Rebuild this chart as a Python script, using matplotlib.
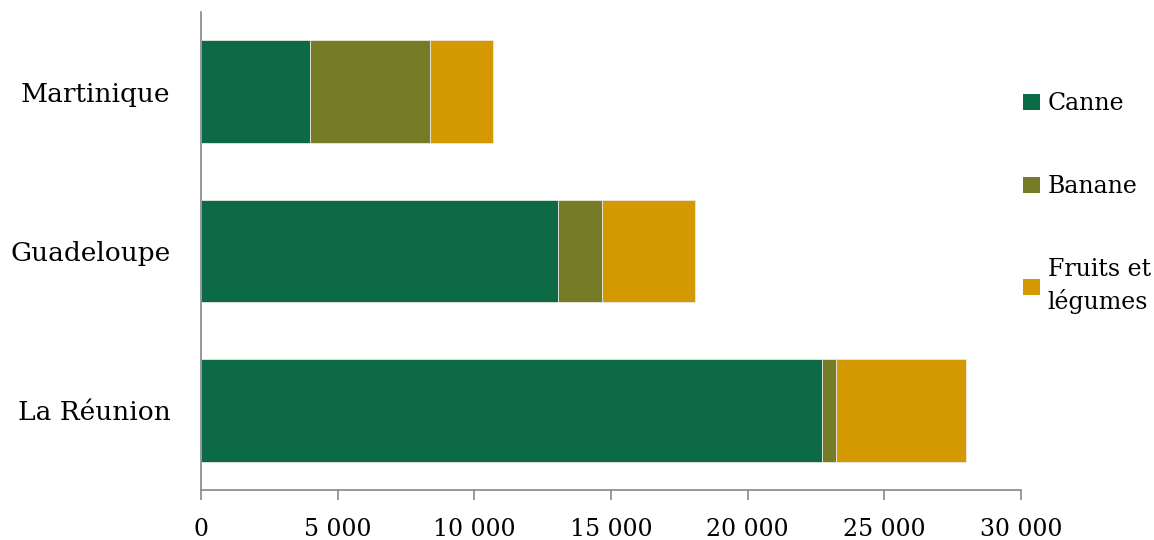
#!/usr/bin/env python3
"""Stacked horizontal bars: agricultural land use in overseas departments."""
import matplotlib.pyplot as plt
from matplotlib.patches import Patch
from matplotlib.ticker import FuncFormatter

plt.rcParams['font.family'] = ['DejaVu Serif']

# Data
regions = ['La Réunion', 'Guadeloupe', 'Martinique']
canne = [22720, 13060, 4000]
banane = [510, 1610, 4380]
fruits = [4760, 3400, 2300]
series_names = ['Canne', 'Banane', 'Fruits et\nlégumes']
colors = ['#0C6B46', '#757B27', '#D49900']

fig = plt.figure(figsize=(11.54, 5.4), dpi=100)
ax = fig.add_axes([0.1742, 0.0926, 0.7105, 0.8852])

left = [0] * len(regions)
for vals, col in zip([canne, banane, fruits], colors):
    ax.barh(regions, vals, left=left, height=0.645, color=col,
            edgecolor='#E8E8E0', linewidth=0.6)
    left = [l + v for l, v in zip(left, vals)]

ax.set_xlim(0, 30000)
ax.set_ylim(-0.5, 2.5)
ax.set_xticks(range(0, 30001, 5000))
ax.xaxis.set_major_formatter(FuncFormatter(lambda v, p: f'{int(v):,}'.replace(',', ' ')))

for s in ['top', 'right']:
    ax.spines[s].set_visible(False)
for s in ['left', 'bottom']:
    ax.spines[s].set_color('#878787')
    ax.spines[s].set_linewidth(1.2)
ax.tick_params(axis='x', colors='#878787', length=7, width=1.2, labelsize=17,
               labelcolor='black', pad=13)
ax.tick_params(axis='y', length=0, labelsize=19, pad=22)

handles = [Patch(facecolor=c, edgecolor='none') for c in colors]
leg = fig.legend(handles, series_names, loc='upper left', bbox_to_anchor=(0.8685, 0.869),
                 frameon=False, fontsize=17, labelspacing=2.55, handlelength=0.68,
                 handleheight=0.68, handletextpad=0.35)
leg.get_texts()[2].set_linespacing(1.4)

fig.savefig('out.png', dpi=100)
